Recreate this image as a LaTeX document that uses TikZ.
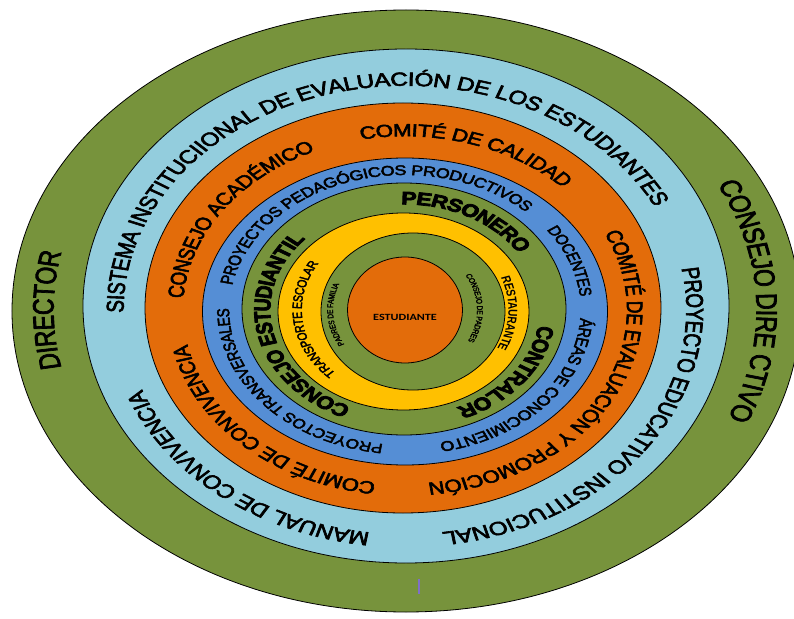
\documentclass[tikz,border=0pt]{standalone}
\usepackage{fontspec}
\setmainfont{Liberation Sans}
\newfontfamily\calibri{Carlito}
\usetikzlibrary{decorations.text}
\definecolor{verde}{HTML}{77933C}
\definecolor{celeste}{HTML}{93CDDD}
\definecolor{naranja}{HTML}{E36C0A}
\definecolor{azul}{HTML}{558ED5}
\definecolor{amarillo}{HTML}{FFC000}
\definecolor{morado}{HTML}{7F6FC8}
\newcommand{\normal}{\addfontfeatures{FakeBold=3}}
\newcommand{\negra}{\bfseries\addfontfeatures{FakeBold=4}}
% texto sobre un arco de elipse: rx, ry, angulo medio, media abertura, tamano, serie, texto
\newcommand{\anillo}[7]{%
  \pgfmathsetmacro{\rx}{#1/\esc}%
  \pgfmathsetmacro{\sube}{-0.358*#5}%
  \pgfmathsetmacro{\ini}{#3+#4}%
  \pgfmathsetmacro{\fin}{#3-#4}%
  \pgfmathsetmacro{\px}{\rx*cos(\ini)}%
  \pgfmathsetmacro{\py}{#2*sin(\ini)}%
  \path[decorate,decoration={text along path,text align=center,raise=\sube pt,
      text={|\fontsize{#5}{#5}\selectfont#6|#7}}]
    (\px,\py) arc[start angle=\ini,end angle=\fin,x radius=\rx,y radius=#2];%
}
\begin{document}
\begin{tikzpicture}[x=1pt,y=1pt,line width=0.8]
	\def\esc{1.28} % estiramiento horizontal del texto
	\useasboundingbox (-405,-308) rectangle (389,310);
	\draw[fill=verde] (1,-1) ellipse [x radius=394,y radius=301];
	\draw[fill=celeste] (1,4) ellipse [x radius=323,y radius=257];
	\draw[fill=naranja] (-2,2) ellipse [x radius=258,y radius=205];
	\draw[fill=azul] (0,-1.5) ellipse [x radius=202.5,y radius=153.5];
	\draw[fill=verde] (-1,1) ellipse [x radius=162,y radius=126];
	\draw[fill=amarillo] (-1.5,-1.5) ellipse [x radius=125.5,y radius=98.5];
	\draw[fill=verde] (8,-1.5) ellipse [x radius=92,y radius=78.5];
	\draw[fill=naranja] (0,0) ellipse [x radius=57.5,y radius=53];
	\draw[morado,line width=1.2] (14,-269) -- (14,-284);
	\begin{scope}[transform canvas={xscale=\esc}]
		% verde exterior
		\anillo{362}{282}{180}{40}{23}{\normal}{DIRECTOR}
		\anillo{362}{282}{2}{60}{23}{\normal}{CONSEJO DIRE CTIVO}
		% celeste
		\anillo{290}{231}{104}{90}{19}{\normal}{SISTEMA INSTITUCIIONAL DE EVALUACIÓN DE LOS ESTUDIANTES}
		\anillo{290}{231}{232}{50}{19}{\normal}{MANUAL DE CONVIVENCIA}
		\anillo{290}{231}{-36}{60}{19}{\normal}{PROYECTO EDUCATIVO INSTITUCIONAL}
		% naranja
		\anillo{230}{180}{73}{40}{17.5}{\normal}{COMITÉ DE CALIDAD}
		\anillo{230}{180}{145}{40}{17.5}{\normal}{CONSEJO ACADÉMICO}
		\anillo{230}{180}{-29}{70}{17.5}{\normal}{COMITÉ DE EVALUACIÓN Y PROMOCIÓN}
		\anillo{230}{180}{227}{50}{17.5}{\normal}{COMITÉ DE CONVIVENCIA}
		% azul
		\anillo{182}{140}{108}{75}{14}{\normal}{PROYECTOS PEDAGÓGICOS PRODUCTIVOS}
		\anillo{182}{140}{21}{25}{13.5}{\normal}{DOCENTES}
		\anillo{182}{140}{-41}{50}{14}{\normal}{ÁREAS DE CONOCIMIENTO}
		\anillo{182}{140}{221}{55}{13.5}{\normal}{PROYECTOS TRANSVERSALES}
		% verde
		\anillo{143}{112}{62}{40}{18}{\negra}{PERSONERO}
		\anillo{143}{112}{192}{70}{18}{\negra}{CONSEJO ESTUDIANTIL}
		\anillo{143}{112}{-38}{40}{18}{\negra}{CONTRALOR}
		% amarillo
		\anillo{108}{89}{187.5}{60}{10.5}{\normal}{TRANSPORTE ESCOLAR}
		\anillo{108}{89}{-2.5}{40}{10}{\bfseries}{RESTAURANTE}
		% verde interior
		\anillo{75}{66}{184.5}{50}{6.5}{\normal}{PADRES DE FAMILIA}
		\anillo{75}{66}{2}{50}{6.5}{\normal}{CONSEJO DE PADRES}
		\node[font=\calibri\bfseries\fontsize{9.5}{9.5}\selectfont] (est) at (0,-7) {ESTUDIANTE};
	\end{scope}
\end{tikzpicture}
\end{document}
